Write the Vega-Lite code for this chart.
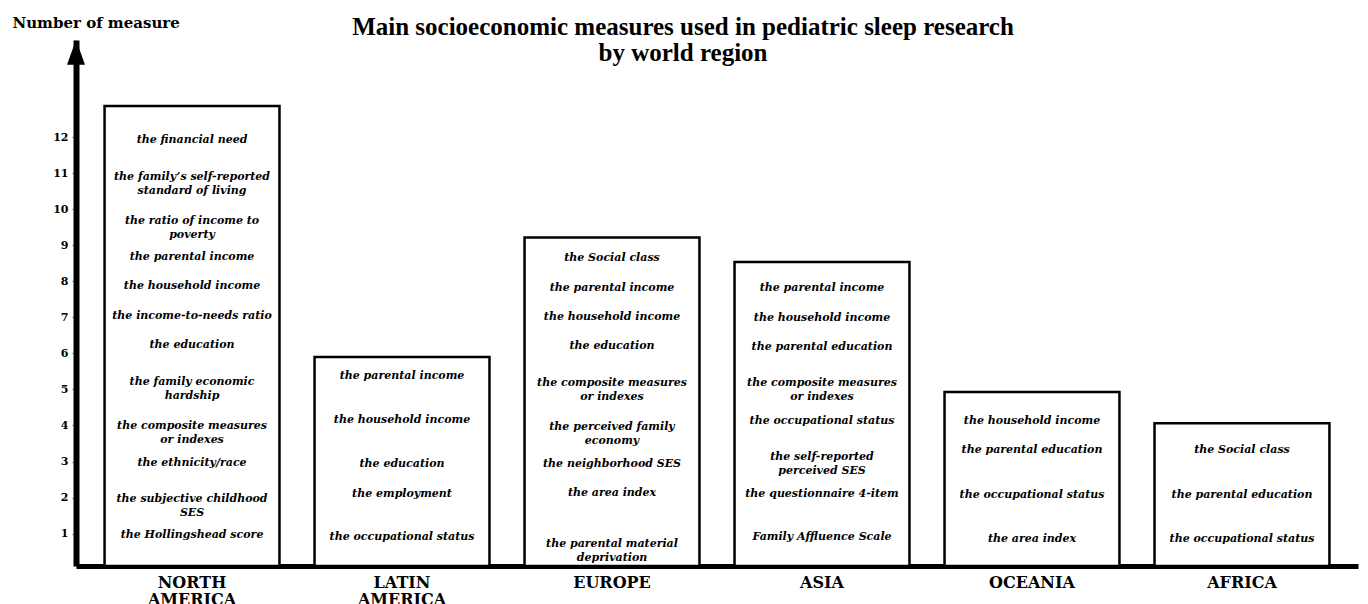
{
  "$schema": "https://vega.github.io/schema/vega-lite/v6.json",
  "width": 1282,
  "height": 526,
  "autosize": {"type": "none"},
  "padding": {"left": 76, "top": 40, "right": 10, "bottom": 38},
  "background": "white",
  "title": {
    "text": ["Main socioeconomic measures used in pediatric sleep research", "by world region"],
    "font": "Liberation Serif",
    "fontSize": 25,
    "fontWeight": "bold",
    "color": "black",
    "lineHeight": 26,
    "anchor": "middle",
    "dx": -34,
    "dy": 51,
    "offset": 0
  },
  "datasets": {
    "bars": [
      {"region": "NORTH AMERICA", "height": 12.87},
      {"region": "LATIN AMERICA", "height": 5.9},
      {"region": "EUROPE", "height": 9.22},
      {"region": "ASIA", "height": 8.54},
      {"region": "OCEANIA", "height": 4.93},
      {"region": "AFRICA", "height": 4.06}
    ],
    "labels": [
      {"region": "NORTH AMERICA", "pos": 11.92, "label": "the financial need"},
      {"region": "NORTH AMERICA", "pos": 10.91, "label": "the family’s self-reported\nstandard of living"},
      {"region": "NORTH AMERICA", "pos": 9.68, "label": "the ratio of income to\npoverty"},
      {"region": "NORTH AMERICA", "pos": 8.68, "label": "the parental income"},
      {"region": "NORTH AMERICA", "pos": 7.87, "label": "the household income"},
      {"region": "NORTH AMERICA", "pos": 7.04, "label": "the income-to-needs ratio"},
      {"region": "NORTH AMERICA", "pos": 6.23, "label": "the education"},
      {"region": "NORTH AMERICA", "pos": 5.21, "label": "the family economic\nhardship"},
      {"region": "NORTH AMERICA", "pos": 3.98, "label": "the composite measures\nor indexes"},
      {"region": "NORTH AMERICA", "pos": 2.97, "label": "the ethnicity/race"},
      {"region": "NORTH AMERICA", "pos": 1.96, "label": "the subjective childhood\nSES"},
      {"region": "NORTH AMERICA", "pos": 0.95, "label": "the Hollingshead score"},
      {"region": "LATIN AMERICA", "pos": 5.37, "label": "the parental income"},
      {"region": "LATIN AMERICA", "pos": 4.15, "label": "the household income"},
      {"region": "LATIN AMERICA", "pos": 2.93, "label": "the education"},
      {"region": "LATIN AMERICA", "pos": 2.11, "label": "the employment"},
      {"region": "LATIN AMERICA", "pos": 0.91, "label": "the occupational status"},
      {"region": "EUROPE", "pos": 8.64, "label": "the Social class"},
      {"region": "EUROPE", "pos": 7.82, "label": "the parental income"},
      {"region": "EUROPE", "pos": 7.02, "label": "the household income"},
      {"region": "EUROPE", "pos": 6.2, "label": "the education"},
      {"region": "EUROPE", "pos": 5.18, "label": "the composite measures\nor indexes"},
      {"region": "EUROPE", "pos": 3.95, "label": "the perceived family\neconomy"},
      {"region": "EUROPE", "pos": 2.94, "label": "the neighborhood SES"},
      {"region": "EUROPE", "pos": 2.13, "label": "the area index"},
      {"region": "EUROPE", "pos": 0.71, "label": "the parental material\ndeprivation"},
      {"region": "ASIA", "pos": 7.81, "label": "the parental income"},
      {"region": "ASIA", "pos": 6.99, "label": "the household income"},
      {"region": "ASIA", "pos": 6.18, "label": "the parental education"},
      {"region": "ASIA", "pos": 5.17, "label": "the composite measures\nor indexes"},
      {"region": "ASIA", "pos": 4.13, "label": "the occupational status"},
      {"region": "ASIA", "pos": 3.12, "label": "the self-reported\nperceived SES"},
      {"region": "ASIA", "pos": 2.11, "label": "the questionnaire 4-item"},
      {"region": "ASIA", "pos": 0.91, "label": "Family Affluence Scale"},
      {"region": "OCEANIA", "pos": 4.12, "label": "the household income"},
      {"region": "OCEANIA", "pos": 3.31, "label": "the parental education"},
      {"region": "OCEANIA", "pos": 2.08, "label": "the occupational status"},
      {"region": "OCEANIA", "pos": 0.86, "label": "the area index"},
      {"region": "AFRICA", "pos": 3.31, "label": "the Social class"},
      {"region": "AFRICA", "pos": 2.08, "label": "the parental education"},
      {"region": "AFRICA", "pos": 0.86, "label": "the occupational status"}
    ],
    "arrow": [{"a": 0, "top": 14.36}]
  },
  "layer": [
    {
      "layer": [
        {
          "data": {"name": "bars"},
          "mark": {"type": "bar", "fill": "white", "stroke": "black", "strokeWidth": 2.5},
          "encoding": {
            "x": {
              "field": "region",
              "type": "nominal",
              "sort": ["NORTH AMERICA", "LATIN AMERICA", "EUROPE", "ASIA", "OCEANIA", "AFRICA"],
              "scale": {"paddingInner": 0.167, "paddingOuter": 0.136},
              "axis": {
                "title": null,
                "labelAngle": 0,
                "labelFont": "DejaVu Serif",
                "labelFontWeight": "bold",
                "labelFontSize": 16,
                "labelColor": "black",
                "labelExpr": "split(datum.label, ' ')",
                "labelLineHeight": 17,
                "labelBaseline": "top",
                "labelPadding": 8,
                "ticks": false,
                "domainColor": "black",
                "domainWidth": 5,
                "grid": false
              }
            },
            "y": {
              "field": "height",
              "type": "quantitative",
              "scale": {"domain": [0.1, 14.7], "nice": false, "zero": false},
              "axis": {
                "title": "Number of measure",
                "titleAngle": 0,
                "titleX": -64,
                "titleY": -18,
                "titleAlign": "left",
                "titleBaseline": "middle",
                "titleFont": "DejaVu Serif",
                "titleFontWeight": "bold",
                "titleFontSize": 15,
                "titleColor": "black",
                "values": [1, 2, 3, 4, 5, 6, 7, 8, 9, 10, 11, 12],
                "labelFont": "DejaVu Serif",
                "labelFontWeight": "bold",
                "labelFontSize": 11,
                "labelColor": "black",
                "labelPadding": 4,
                "tickSize": 4,
                "tickColor": "#666666",
                "tickWidth": 1,
                "domainColor": "black",
                "domainWidth": 6,
                "grid": false
              }
            },
            "y2": {"datum": 0.1}
          }
        },
        {
          "data": {"name": "labels"},
          "mark": {
            "type": "text",
            "font": "DejaVu Serif",
            "fontStyle": "italic",
            "fontWeight": "bold",
            "fontSize": 11,
            "color": "black",
            "lineBreak": "\n",
            "lineHeight": 14,
            "align": "center",
            "baseline": "middle"
          },
          "encoding": {
            "x": {"field": "region", "type": "nominal", "sort": ["NORTH AMERICA", "LATIN AMERICA", "EUROPE", "ASIA", "OCEANIA", "AFRICA"]},
            "y": {"field": "pos", "type": "quantitative"},
            "text": {"field": "label"}
          }
        }
      ]
    },
    {
      "data": {"name": "arrow"},
      "mark": {
        "type": "point",
        "shape": "M-0.72,1L0,-1L0.72,1Z",
        "filled": true,
        "color": "black",
        "opacity": 1,
        "size": 625
      },
      "encoding": {
        "x": {"field": "a", "type": "quantitative", "scale": {"domain": [0, 1]}, "axis": null},
        "y": {"field": "top", "type": "quantitative"}
      }
    }
  ],
  "resolve": {"scale": {"x": "independent"}},
  "config": {"view": {"stroke": null}}
}
